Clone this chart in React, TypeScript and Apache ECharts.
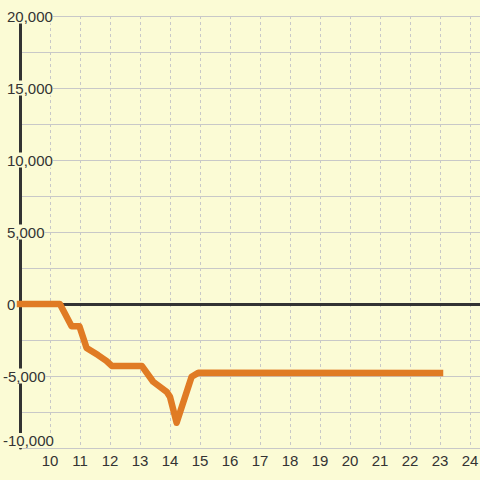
import React, { useEffect, useRef } from "react";
import * as echarts from "echarts";

const xValues = [9, 10.33, 10.72, 10.98, 11.22, 11.6, 11.88, 12.06, 13.06, 13.44, 13.89, 14.0, 14.22, 14.72, 14.94, 23];
const yValues = [0, 0, -1550, -1550, -3050, -3550, -3950, -4300, -4300, -5400, -6100, -6450, -8250, -5050, -4780, -4800];
const yTicks = { min: -10000, max: 20000, step: 2500, labelStep: 5000 };
const xTicks = { min: 9, max: 24.333, step: 1, firstLabel: 10 };

const BG = "#fbfbd5";
const TEXT = "#333333";
const FONT = "Liberation Sans, Arial, sans-serif";

export default function App() {
  const ref = useRef<HTMLDivElement>(null);
  useEffect(() => {
    if (!ref.current) return;
    const chart = echarts.init(ref.current, null, { renderer: "svg" });
    const data = xValues.map((x, i) => [x, yValues[i]]);
    chart.setOption({
      animation: false,
      backgroundColor: BG,
      grid: { left: 20, right: 0, top: 16, bottom: 32, containLabel: false, outerBoundsMode: "none" },
      xAxis: {
        type: "value",
        min: xTicks.min,
        max: xTicks.max,
        interval: xTicks.step,
        axisLine: { show: false },
        axisTick: { show: false },
        axisLabel: {
          margin: 5,
          fontSize: 15,
          fontFamily: FONT,
          color: TEXT,
          showMaxLabel: false,
          formatter: (v: number) => (v >= xTicks.firstLabel && Number.isInteger(v) ? String(v) : ""),
        },
        splitLine: { show: true, lineStyle: { color: "#c8c8c8", type: [3, 3], width: 1 } },
      },
      yAxis: {
        type: "value",
        min: yTicks.min,
        max: yTicks.max,
        interval: yTicks.step,
        axisLine: { show: true, lineStyle: { color: "#333333", width: 3 } },
        axisTick: { show: false },
        axisLabel: {
          margin: 17,
          align: "left",
          fontSize: 15,
          fontFamily: FONT,
          color: TEXT,
          backgroundColor: BG,
          verticalAlignMinLabel: "bottom",
          formatter: (v: number) => {
            if (v % yTicks.labelStep !== 0) return "";
            const s = Math.abs(v).toLocaleString("en-US");
            return v < 0 ? "{n|-" + s + "}" : "{p|" + s + "}";
          },
          rich: {
            n: { fontSize: 15, fontFamily: FONT, color: TEXT },
            p: { fontSize: 15, fontFamily: FONT, color: TEXT, padding: [0, 0, 0, 4] },
          },
        },
        splitLine: { show: true, lineStyle: { color: "#c8c8c8", width: 1 } },
      },
      series: [
        {
          type: "line",
          data,
          showSymbol: false,
          symbol: "none",
          clip: false,
          lineStyle: { color: "#e07b24", width: 6.5, cap: "square", join: "round" },
          markLine: {
            silent: true,
            z: 1,
            symbol: "none",
            label: { show: false },
            lineStyle: { color: "#333333", width: 3, type: "solid" },
            data: [{ yAxis: 0 }],
          },
        },
      ],
    });
    return () => chart.dispose();
  }, []);
  return <div ref={ref} style={{ position: "absolute", left: 0, top: 0, width: 480, height: 480 }} />;
}
